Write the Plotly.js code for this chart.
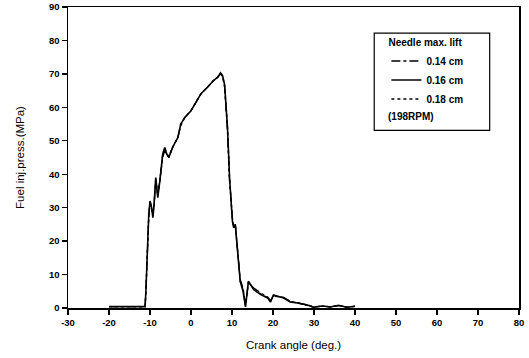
<!DOCTYPE html>
<html>
<head>
<meta charset="utf-8">
<script src="https://cdn.plot.ly/plotly-3.0.1.min.js"></script>
<style>html,body{margin:0;padding:0;background:#fff;}#chart{width:529px;height:358px;}</style>
</head>
<body>
<div id="chart"></div>
<script>
// Crank angle (deg.) and fuel injection pressure (MPa)
var x016 = [-20, -11.2, -11.0, -10.6, -10.3, -10.0, -9.6, -9.3, -9.0, -8.6, -8.1, -7.6, -6.9, -6.4, -5.9, -5.4, -4.5, -3.2, -2.5, -1.5, 0, 1.2, 2.4, 4.0, 5.5, 6.5, 7.2, 7.7, 8.2, 8.9, 9.4, 10.1, 10.4, 10.8, 11.3, 12.0, 12.7, 13.3, 14.0, 15.3, 17.0, 18.7, 19.4, 20.1, 22.6, 24.2, 26, 28.4, 29.9, 32, 34, 36, 38, 40];
var y016 = [0.4, 0.4, 5, 20, 28, 32, 30, 27, 31, 39, 33, 38, 46, 48, 46, 45, 48, 51, 55, 57, 59, 61.5, 64, 66, 68, 69, 70.3, 69.5, 66.7, 54, 39, 26, 24, 25, 18, 8, 5, 0.3, 8, 5.5, 4, 3, 1.8, 3.9, 3, 1.8, 1.5, 0.9, 0.2, 0.6, 0.3, 0.8, 0.2, 0.5];
var x014 = [-20, -11.2, -11.0, -10.6, -10.3, -10.0, -9.6, -9.3, -9.0, -8.6, -8.1, -7.6, -6.9, -6.4, -5.9, -5.4, -4.5, -3.2, -2.5, -1.5, 0, 1.2, 2.4, 4.0, 5.5, 6.5, 7.2, 7.7, 8.2, 8.9, 9.4, 10.1, 10.4, 10.8, 11.3, 12.0, 12.7, 13.3, 14.0, 15.3, 17.0, 18.7, 19.4, 20.1, 22.6, 24.2, 26, 28.4, 29.9, 32, 34, 36, 38, 40];
var y014 = [0.4, 0.4, 5, 19, 27, 31, 30, 28, 31, 38, 34, 38, 45, 47, 46, 45, 48, 51, 54.5, 57, 59, 61.5, 64, 66, 68, 69, 70, 69.2, 66, 53, 38, 27, 24.5, 25, 17, 8.5, 6, 1, 7.5, 6, 4.5, 3.3, 2.2, 3.5, 3.2, 2.0, 1.6, 1.0, 0.4, 0.5, 0.4, 0.7, 0.3, 0.5];
var x018 = [-20, -11.2, -11.0, -10.6, -10.3, -10.0, -9.6, -9.3, -9.0, -8.6, -8.1, -7.6, -6.9, -6.4, -5.9, -5.4, -4.5, -3.2, -2.5, -1.5, 0, 1.2, 2.4, 4.0, 5.5, 6.5, 7.2, 7.7, 8.2, 8.9, 9.4, 10.1, 10.4, 10.8, 11.3, 12.0, 12.7, 13.3, 14.0, 15.3, 17.0, 18.7, 19.4, 20.1, 22.6, 24.2, 26, 28.4, 29.9, 32, 34, 36, 38, 40];
var y018 = [0.4, 0.4, 5, 20, 28, 32, 30, 27.5, 31, 39, 33.5, 38, 46, 48, 46, 45.5, 48, 51, 55, 57, 59, 61.5, 64, 66, 68, 69, 70.2, 69.5, 66.5, 54, 39, 26.5, 24, 25, 18, 8, 5.5, 0.6, 7.8, 5.8, 4.2, 3.1, 2, 3.7, 3.1, 1.9, 1.5, 0.9, 0.3, 0.6, 0.3, 0.8, 0.2, 0.5];
var names = ["0.14 cm", "0.16 cm", "0.18 cm"];
var xTicks = [-30, -20, -10, 0, 10, 20, 30, 40, 50, 60, 70, 80];
var yTicks = [0, 10, 20, 30, 40, 50, 60, 70, 80, 90];

var font = "Liberation Sans, Arial, sans-serif";
var traces = [
  {x: x014, y: y014, name: names[0], mode: "lines", line: {color: "#000", width: 1.3, dash: "dashdot"}},
  {x: x016, y: y016, name: names[1], mode: "lines", line: {color: "#000", width: 1.6, dash: "solid"}},
  {x: x018, y: y018, name: names[2], mode: "lines", line: {color: "#000", width: 1.3, dash: "dot"}}
];
var axisCommon = {
  showgrid: false, zeroline: false, showline: true, linecolor: "#000", linewidth: 1.5,
  mirror: true, ticks: "outside", ticklen: 5, tickwidth: 1.3, tickcolor: "#000",
  tickfont: {family: font, size: 9.5, color: "#000", weight: "bold"}
};
var layout = {
  width: 529, height: 358,
  margin: {l: 68, r: 10, t: 7, b: 50},
  paper_bgcolor: "#fff", plot_bgcolor: "#fff",
  font: {family: font, color: "#000"},
  xaxis: Object.assign({}, axisCommon, {
    range: [-30, 80], tickvals: xTicks, ticktext: xTicks.map(String),
    title: {text: "Crank angle (deg.)", font: {family: font, size: 11.5, color: "#000"}, standoff: 14}
  }),
  yaxis: Object.assign({}, axisCommon, {
    range: [0, 90], tickvals: yTicks, ticktext: yTicks.map(String),
    title: {text: "Fuel inj.press.(MPa)", font: {family: font, size: 11.5, color: "#000"}, standoff: 22}
  }),
  showlegend: true,
  legend: {
    x: 0.706, y: 0.912, xanchor: "left", yanchor: "top",
    bgcolor: "rgba(0,0,0,0)", borderwidth: 0,
    font: {family: font, size: 10, color: "#000", weight: "bold"},
    title: {text: "Needle max. lift", font: {family: font, size: 10, color: "#000", weight: "bold"}},
    itemwidth: 30, tracegroupgap: 0
  },
  shapes: [
    {type: "rect", xref: "paper", yref: "paper", x0: 0.679, x1: 0.935, y0: 0.59, y1: 0.913,
     line: {color: "#000", width: 1.2}, fillcolor: "rgba(0,0,0,0)"}
  ],
  annotations: [
    {xref: "paper", yref: "paper", x: 0.706, y: 0.635, xanchor: "left", yanchor: "middle",
     text: "<b>(198RPM)</b>", showarrow: false, font: {family: font, size: 10, color: "#000"}}
  ]
};
Plotly.newPlot("chart", traces, layout, {displayModeBar: false, staticPlot: true});
</script>
</body>
</html>
